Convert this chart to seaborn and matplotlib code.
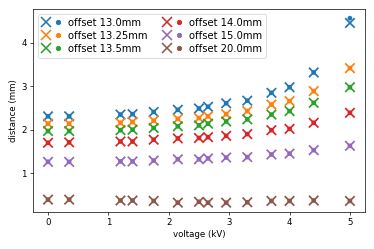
import numpy as np
import pandas as pd
import matplotlib
matplotlib.use('Agg')
import matplotlib.pyplot as plt
import seaborn as sns
from matplotlib.lines import Line2D
from matplotlib.legend_handler import HandlerTuple

# voltages used in the measurement
voltage = [0, 0.35, 1.2, 1.4, 1.75, 2.15, 2.5, 2.65, 2.95, 3.3, 3.7, 4.0, 4.4, 5.0]
offsets = ['offset 13.0mm', 'offset 13.25mm', 'offset 13.5mm',
           'offset 14.0mm', 'offset 15.0mm', 'offset 20.0mm']

# measured distances (x markers)
d_130 = [2.31, 2.31, 2.35, 2.36, 2.41, 2.46, 2.49, 2.53, 2.61, 2.67, 2.85, 2.98, 3.32, 4.46]
d_1325 = [2.14, 2.14, 2.16, 2.18, 2.21, 2.25, 2.27, 2.31, 2.36, 2.43, 2.58, 2.66, 2.89, 3.42]
d_135 = [1.97, 1.97, 1.99, 2.00, 2.04, 2.08, 2.10, 2.14, 2.19, 2.24, 2.35, 2.43, 2.62, 2.98]
d_140 = [1.70, 1.71, 1.73, 1.73, 1.77, 1.80, 1.81, 1.83, 1.86, 1.90, 1.99, 2.02, 2.16, 2.39]
d_150 = [1.26, 1.26, 1.27, 1.27, 1.29, 1.32, 1.32, 1.34, 1.36, 1.37, 1.43, 1.45, 1.53, 1.63]
d_200 = [0.39, 0.39, 0.37, 0.37, 0.36, 0.32, 0.34, 0.32, 0.32, 0.33, 0.36, 0.36, 0.37, 0.36]

# model distances (dots) - mostly hidden under the crosses
m_130 = [2.31, 2.31, 2.35, 2.36, 2.41, 2.46, 2.49, 2.53, 2.61, 2.67, 2.85, 2.98, 3.32, 4.57]
m_1325 = d_1325
m_135 = d_135
m_140 = d_140
m_150 = d_150
m_200 = d_200

measured = [d_130, d_1325, d_135, d_140, d_150, d_200]
model = [m_130, m_1325, m_135, m_140, m_150, m_200]

rows = []
for name, meas, mod in zip(offsets, measured, model):
    for v, a, b in zip(voltage, meas, mod):
        rows.append({'voltage': v, 'distance': a, 'model': b, 'offset': name})
df = pd.DataFrame(rows)

colors = sns.color_palette('tab10', len(offsets))
pal = dict(zip(offsets, colors))

dpi = 62.4
fig, ax = plt.subplots(figsize=(374 / dpi, 249 / dpi), dpi=dpi)
fig.subplots_adjust(left=0.088, right=0.976, top=0.964, bottom=0.149)

sns.scatterplot(data=df, x='voltage', y='model', hue='offset', palette=pal,
                marker='o', s=30, linewidth=0, legend=False, ax=ax)
sns.scatterplot(data=df, x='voltage', y='distance', hue='offset', palette=pal,
                marker='x', s=120, linewidth=2, legend=False, ax=ax)

ax.set_xlabel('voltage (kV)')
ax.set_ylabel('distance (mm)')
ax.set_xticks([0, 1, 2, 3, 4, 5])
ax.set_yticks([1, 2, 3, 4])

handles = []
for c in colors:
    hx = Line2D([], [], linestyle='', marker='x', color=c, markersize=11, markeredgewidth=1.8)
    ho = Line2D([], [], linestyle='', marker='o', color=c, markersize=5)
    handles.append((hx, ho))
ax.legend(handles, offsets, ncol=2, loc='upper left', fontsize=11.5,
          labelspacing=0.3, handletextpad=0.6, columnspacing=1.6,
          handler_map={tuple: HandlerTuple(ndivide=None)})

fig.savefig('out.png', dpi=dpi)
